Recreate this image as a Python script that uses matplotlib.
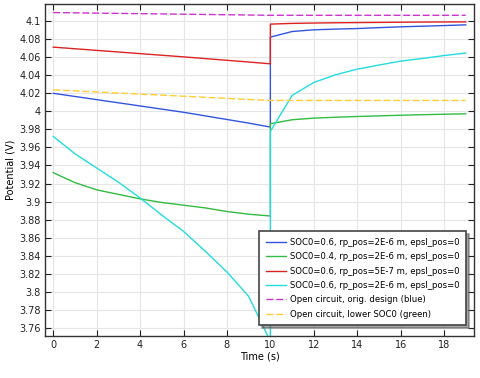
import matplotlib
matplotlib.use("Agg")
import matplotlib.pyplot as plt

# Time points (two values at t=10: before and after the current interruption)
t_pre = [0, 1, 2, 3, 4, 5, 6, 7, 8, 9, 10]
t_post = [10, 11, 12, 13, 14, 15, 16, 17, 18, 19]

blue_pre = [4.020, 4.0165, 4.013, 4.0095, 4.006, 4.0025, 3.999, 3.995, 3.991, 3.987, 3.9826]
blue_post = [4.0823, 4.0885, 4.0904, 4.0912, 4.0918, 4.0928, 4.0937, 4.0944, 4.0951, 4.0959]

green_pre = [3.932, 3.921, 3.913, 3.908, 3.903, 3.899, 3.896, 3.893, 3.889, 3.886, 3.884]
green_post = [3.9863, 3.9907, 3.9925, 3.9935, 3.9943, 3.995, 3.9957, 3.9963, 3.9968, 3.9973]

red_pre = [4.0712, 4.0694, 4.0676, 4.0658, 4.064, 4.0622, 4.0604, 4.0585, 4.0566, 4.0547, 4.0527]
red_post = [4.0967, 4.0975, 4.0979, 4.0982, 4.0984, 4.0986, 4.0988, 4.099, 4.0991, 4.0992]

cyan_pre = [3.9722, 3.953, 3.9372, 3.9215, 3.904, 3.885, 3.867, 3.845, 3.822, 3.795, 3.745]
cyan_post = [3.9778, 4.0176, 4.032, 4.0405, 4.0468, 4.0513, 4.0557, 4.0586, 4.0619, 4.0646]

ocv_orig_pre = [4.1095, 4.1092, 4.1089, 4.1086, 4.1083, 4.108, 4.1077, 4.1074, 4.1071, 4.1068, 4.1065]
ocv_orig_post = [4.1065, 4.1065, 4.1065, 4.1065, 4.1065, 4.1065, 4.1065, 4.1065, 4.1065, 4.1065]

ocv_low_pre = [4.0239, 4.0227, 4.0215, 4.0203, 4.0191, 4.018, 4.0168, 4.0156, 4.0144, 4.0132, 4.0121]
ocv_low_post = [4.0121, 4.0121, 4.0121, 4.0121, 4.0121, 4.0121, 4.0121, 4.0121, 4.0121, 4.0121]

labels = [
    "SOC0=0.6, rp_pos=2E-6 m, epsl_pos=0",
    "SOC0=0.4, rp_pos=2E-6 m, epsl_pos=0",
    "SOC0=0.6, rp_pos=5E-7 m, epsl_pos=0",
    "SOC0=0.6, rp_pos=2E-6 m, epsl_pos=0",
    "Open circuit, orig. design (blue)",
    "Open circuit, lower SOC0 (green)",
]

xticks = [0, 2, 4, 6, 8, 10, 12, 14, 16, 18]
yticks = [3.76, 3.78, 3.8, 3.82, 3.84, 3.86, 3.88, 3.9, 3.92, 3.94, 3.96, 3.98,
          4.0, 4.02, 4.04, 4.06, 4.08, 4.1]
ytick_labels = ["3.76", "3.78", "3.8", "3.82", "3.84", "3.86", "3.88", "3.9", "3.92",
                "3.94", "3.96", "3.98", "4", "4.02", "4.04", "4.06", "4.08", "4.1"]

plt.rcParams['font.family'] = ['DejaVu Sans']

fig = plt.figure(figsize=(4.81, 3.78), dpi=100)
ax = fig.add_axes([0.0936, 0.1111, 0.8918, 0.8783])

series = [
    (blue_pre, blue_post, "#3355dd", "-"),
    (green_pre, green_post, "#33bb44", "-"),
    (red_pre, red_post, "#dd2222", "-"),
    (cyan_pre, cyan_post, "#22dddd", "-"),
    (ocv_orig_pre, ocv_orig_post, "#cc33cc", (0, (5, 2))),
    (ocv_low_pre, ocv_low_post, "#ffcc33", (0, (5, 2))),
]

for (pre, post, col, ls), lab in zip(series, labels):
    ax.plot(t_pre + t_post, pre + post, color=col, ls=ls, lw=1.0, label=lab)

ax.set_xlim(-0.38, 19.38)
ax.set_ylim(3.751, 4.119)
ax.set_xticks(xticks)
ax.set_yticks(yticks)
ax.set_yticklabels(ytick_labels)
ax.tick_params(direction='in', length=4, width=0.8, labelsize=7, colors='#222222',
               top=True, right=True, labeltop=False, labelright=False, pad=3)
ax.grid(True, color='#e6e6e6', lw=0.8)
ax.set_axisbelow(True)
for s in ax.spines.values():
    s.set_color('#333333')
    s.set_linewidth(1.0)

ax.set_xlabel("Time (s)", fontsize=7, labelpad=1)
ax.set_ylabel("Potential (V)", fontsize=7, labelpad=3)

leg = ax.legend(loc='lower right', bbox_to_anchor=(0.988, 0.025), fontsize=6.1,
                frameon=True, fancybox=False, shadow=True, framealpha=1,
                edgecolor='#444444', handlelength=2.4, handletextpad=0.5,
                labelspacing=0.64, borderpad=0.75, borderaxespad=0.3)
leg.get_frame().set_linewidth(1.2)

fig.savefig("out.png", dpi=100)
